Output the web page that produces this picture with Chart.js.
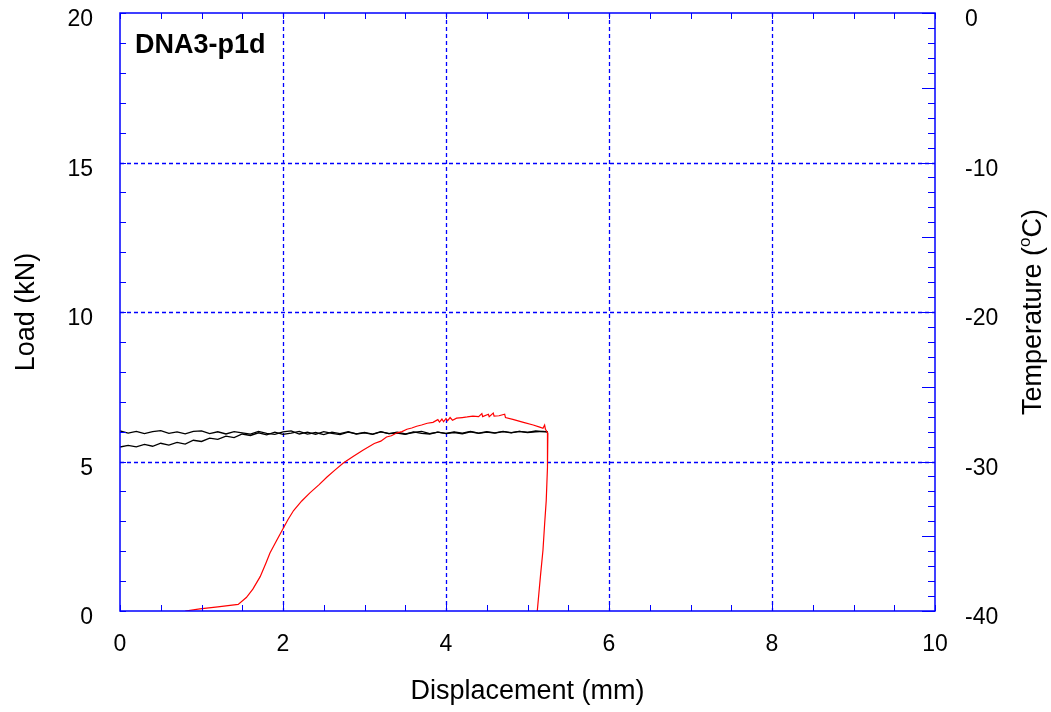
<!DOCTYPE html>
<html>
<head>
<meta charset="utf-8">
<script src="https://cdn.jsdelivr.net/npm/chart.js@4/dist/chart.umd.min.js"></script>
<style>
  html, body { margin: 0; padding: 0; background: #fff; }
  #wrap { width: 1051px; height: 712px; }
</style>
</head>
<body>
<div id="wrap"><canvas id="load_chart" width="1051" height="712"></canvas></div>
<script>
// load trace (displacement mm, load kN)
const loadDisp = [0.80, 0.98, 1.20, 1.45, 1.55, 1.63, 1.72, 1.79, 1.84, 1.92, 1.99, 2.06, 2.13, 2.23, 2.33, 2.44,
    2.54, 2.64, 2.74, 2.86, 2.98, 3.12, 3.20, 3.27, 3.33, 3.40, 3.46, 3.52, 3.58, 3.64, 3.70, 3.77, 3.84, 3.90,
    3.92, 3.95, 3.97, 4.00, 4.02, 4.05, 4.08, 4.13, 4.20, 4.26, 4.33, 4.40, 4.44, 4.45, 4.52, 4.53, 4.58, 4.59,
    4.65, 4.72, 4.73, 4.82, 4.95, 5.07, 5.15, 5.19, 5.21, 5.22, 5.25, 5.25, 5.24, 5.23, 5.21, 5.19, 5.16, 5.14,
    5.12];
const loadKN = [0.00, 0.07, 0.14, 0.22, 0.45, 0.73, 1.15, 1.60, 1.94, 2.35, 2.70, 3.05, 3.36, 3.68, 3.95, 4.22,
    4.48, 4.72, 4.95, 5.17, 5.38, 5.60, 5.68, 5.82, 5.86, 5.96, 6.00, 6.08, 6.12, 6.18, 6.22, 6.28, 6.31, 6.40,
    6.32, 6.42, 6.33, 6.44, 6.36, 6.47, 6.38, 6.45, 6.47, 6.49, 6.52, 6.50, 6.60, 6.50, 6.58, 6.50, 6.62, 6.52,
    6.53, 6.58, 6.47, 6.41, 6.31, 6.22, 6.15, 6.11, 6.22, 6.08, 5.95, 5.60, 4.80, 3.70, 2.90, 2.04, 1.20, 0.60,
    0.00];

// temperature traces (displacement mm, temperature degC)
const tempDisp = [0.0, 0.1, 0.2, 0.3, 0.4, 0.5, 0.6, 0.7, 0.8, 0.9, 1.0, 1.1, 1.2, 1.3, 1.4, 1.5, 1.6, 1.7,
    1.8, 1.9, 2.0, 2.1, 2.2, 2.3, 2.4, 2.5, 2.6, 2.7, 2.8, 2.9, 3.0, 3.1, 3.2, 3.3, 3.4, 3.5, 3.6, 3.7, 3.8,
    3.9, 4.0, 4.1, 4.2, 4.3, 4.4, 4.5, 4.6, 4.7, 4.8, 4.9, 5.0, 5.1, 5.2, 5.25];
const tempA = [-27.96, -28.10, -27.98, -28.14, -28.00, -27.94, -28.12, -28.02, -28.15, -27.99,
    -27.95, -28.13, -28.01, -28.16, -28.00, -28.08, -28.17, -27.99, -28.12, -28.18,
    -28.02, -27.95, -28.16, -28.04, -28.18, -28.00, -28.12, -28.20, -28.03, -28.15,
    -28.05, -28.17, -28.00, -28.13, -28.03, -28.16, -28.06, -27.98, -28.14, -28.04,
    -28.12, -28.02, -28.11, -27.99, -28.10, -28.01, -28.09, -27.98, -28.07, -27.99,
    -28.05, -27.96, -28.00, -28.02];
const tempB = [-29.03, -28.92, -29.02, -28.86, -28.98, -28.78, -28.90, -28.72, -28.84, -28.58,
    -28.66, -28.44, -28.52, -28.30, -28.40, -28.16, -28.26, -28.08, -28.22, -28.04,
    -28.19, -28.10, -27.98, -28.17, -28.06, -28.20, -28.04, -28.13, -28.00, -28.16,
    -28.08, -28.19, -28.02, -28.14, -28.10, -28.18, -28.02, -28.12, -28.16, -28.04,
    -28.13, -28.06, -28.15, -28.01, -28.12, -28.03, -28.10, -28.00, -28.08, -27.98,
    -28.06, -28.02, -27.99, -28.03];

const COLORS = {
    BLUE: '#0000ff',
    RED: '#ff0000',
    BLACK: '#000000'
};
const FONT = 'Liberation Sans, Arial, sans-serif';

const toPoints = (xs, ys) => xs.map((x, i) => ({ x: x, y: ys[i] }));
const crisp = (v) => Math.round(v) + 0.5;

// dashed grid behind the traces
const gridPlugin = {
    id: 'dashGrid',
    beforeDatasetsDraw(chart) {
        const { ctx, chartArea: area, scales } = chart;
        ctx.save();
        ctx.strokeStyle = COLORS.BLUE;
        ctx.lineWidth = 1.3;
        ctx.setLineDash([4, 3]);
        ctx.beginPath();
        scales.x.ticks.forEach((t) => {
            if (t.value <= scales.x.min || t.value >= scales.x.max) return;
            const px = crisp(scales.x.getPixelForValue(t.value));
            ctx.moveTo(px, area.top); ctx.lineTo(px, area.bottom);
        });
        scales.y.ticks.forEach((t) => {
            if (t.value <= scales.y.min || t.value >= scales.y.max) return;
            const py = crisp(scales.y.getPixelForValue(t.value));
            ctx.moveTo(area.left, py); ctx.lineTo(area.right, py);
        });
        ctx.stroke();
        ctx.restore();
    }
};

// frame, inward minor ticks, specimen label and right-hand title
const framePlugin = {
    id: 'frame',
    afterDraw(chart) {
        const { ctx, chartArea: area, scales } = chart;
        ctx.save();
        ctx.strokeStyle = COLORS.BLUE;
        ctx.lineWidth = 1;
        ctx.beginPath();
        for (let v = 0; v <= 10; v += 0.5) {
            const px = crisp(scales.x.getPixelForValue(v));
            ctx.moveTo(px, area.bottom); ctx.lineTo(px, area.bottom - 6);
            ctx.moveTo(px, area.top); ctx.lineTo(px, area.top + 6);
        }
        for (let v = 0; v <= 20; v += 1) {
            const py = crisp(scales.y.getPixelForValue(v));
            ctx.moveTo(area.left, py); ctx.lineTo(area.left + 6, py);
        }
        for (let v = -40; v <= 0; v += 1) {
            const py = crisp(scales.y2.getPixelForValue(v));
            const len = v % 5 === 0 ? 13 : 7;
            ctx.moveTo(area.right, py); ctx.lineTo(area.right - len, py);
        }
        ctx.stroke();
        ctx.lineWidth = 1.5;
        ctx.strokeRect(area.left, area.top, area.right - area.left, area.bottom - area.top);

        ctx.fillStyle = COLORS.BLACK;
        ctx.font = 'bold 27px ' + FONT;
        ctx.textBaseline = 'middle';
        ctx.fillText('DNA3-p1d', area.left + 15, area.top + 33);

        // Temperature (oC) with a raised small o, reading bottom to top
        const big = '27px ' + FONT, small = '17px ' + FONT;
        const p1 = 'Temperature (', p2 = 'o', p3 = 'C)';
        ctx.font = big;
        const w1 = ctx.measureText(p1).width, w3 = ctx.measureText(p3).width;
        ctx.font = small;
        const w2 = ctx.measureText(p2).width;
        const total = w1 + w2 + w3;
        ctx.translate(1031, (area.top + area.bottom) / 2);
        ctx.rotate(-Math.PI / 2);
        ctx.textBaseline = 'alphabetic';
        let x = -total / 2;
        ctx.font = big; ctx.fillText(p1, x, 10); x += w1;
        ctx.font = small; ctx.fillText(p2, x, -1); x += w2;
        ctx.font = big; ctx.fillText(p3, x, 10);
        ctx.restore();
    }
};

const config = {
    type: 'line',
    data: {
        datasets: [
            {
                data: toPoints(loadDisp, loadKN),
                yAxisID: 'y',
                borderColor: COLORS.RED,
                borderWidth: 1.2,
                pointRadius: 0,
                tension: 0
            },
            {
                data: toPoints(tempDisp, tempA),
                yAxisID: 'y2',
                borderColor: COLORS.BLACK,
                borderWidth: 1.3,
                pointRadius: 0,
                tension: 0
            },
            {
                data: toPoints(tempDisp, tempB),
                yAxisID: 'y2',
                borderColor: COLORS.BLACK,
                borderWidth: 1.3,
                pointRadius: 0,
                tension: 0
            }
        ]
    },
    options: {
        responsive: false,
        devicePixelRatio: 1,
        animation: false,
        layout: { autoPadding: false, padding: { top: 13, left: 0, right: 0, bottom: 0 } },
        plugins: { legend: { display: false }, tooltip: { enabled: false } },
        scales: {
            x: {
                type: 'linear',
                min: 0, max: 10,
                ticks: { stepSize: 2, color: COLORS.BLACK, padding: 20, font: { family: FONT, size: 23 } },
                grid: { display: false, drawTicks: false },
                border: { display: false },
                title: {
                    display: true, text: 'Displacement (mm)', color: COLORS.BLACK,
                    font: { family: FONT, size: 27 }, padding: { top: 20 }
                },
                afterFit: (scale) => {
                    scale.height = 101;
                    scale.paddingLeft = 0; scale.paddingRight = 0;
                }
            },
            y: {
                position: 'left',
                min: 0, max: 20,
                ticks: { stepSize: 5, color: COLORS.BLACK, padding: 27, labelOffset: 7, font: { family: FONT, size: 23 } },
                grid: { display: false, drawTicks: false },
                border: { display: false },
                title: {
                    display: true, text: 'Load (kN)', color: COLORS.BLACK,
                    font: { family: FONT, size: 27 }, padding: { top: 10, bottom: 0 }
                },
                afterFit: (scale) => {
                    scale.width = 120;
                    scale.paddingTop = 0; scale.paddingBottom = 0;
                }
            },
            y2: {
                position: 'right',
                min: -40, max: 0,
                ticks: { stepSize: 10, color: COLORS.BLACK, padding: 30, labelOffset: 7, font: { family: FONT, size: 23 } },
                grid: { display: false, drawTicks: false },
                border: { display: false },
                afterFit: (scale) => {
                    scale.width = 116;
                    scale.paddingTop = 0; scale.paddingBottom = 0;
                }
            }
        }
    },
    plugins: [gridPlugin, framePlugin]
};

const attachChart = (id, cfg) => {
    const ctx = document.getElementById(id);
    return new Chart(ctx, cfg);
};

attachChart('load_chart', config);
</script>
</body>
</html>
